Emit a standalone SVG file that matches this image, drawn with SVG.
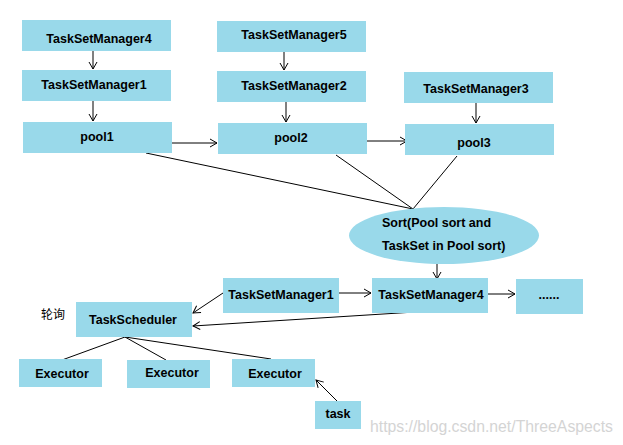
<svg xmlns="http://www.w3.org/2000/svg" width="623" height="445" viewBox="0 0 623 445">
<defs>
<style>
.b{fill:#99d9ea}
.t{font-family:"Liberation Sans",Arial,sans-serif;font-weight:bold;font-size:12.5px;fill:#000;text-anchor:middle;dominant-baseline:central}
.c{stroke:#000;stroke-width:1;fill:none}
.wm{font-family:"Liberation Sans",Arial,sans-serif;font-size:16px;fill:#d4d4d4}
</style>
<marker id="a" markerWidth="10" markerHeight="10" refX="8" refY="5" orient="auto" markerUnits="userSpaceOnUse">
<polyline points="1,1 8,5 1,9" fill="none" stroke="#000" stroke-width="1"/>
</marker>
</defs>
<rect width="623" height="445" fill="#fff"/>
<g id="connectors">
<line class="c" x1="93" y1="51" x2="93" y2="69" marker-end="url(#a)"/>
<line class="c" x1="93" y1="101" x2="93" y2="121" marker-end="url(#a)"/>
<line class="c" x1="284" y1="52" x2="284" y2="70" marker-end="url(#a)"/>
<line class="c" x1="286" y1="102" x2="286" y2="122" marker-end="url(#a)"/>
<line class="c" x1="476" y1="103" x2="476" y2="123" marker-end="url(#a)"/>
<line class="c" x1="172" y1="143" x2="217" y2="143" marker-end="url(#a)"/>
<line class="c" x1="367" y1="141" x2="407" y2="141" marker-end="url(#a)"/>
<line class="c" x1="146" y1="153" x2="413" y2="209"/>
<line class="c" x1="336" y1="155" x2="413" y2="209"/>
<line class="c" x1="457" y1="156" x2="413" y2="209"/>
<line class="c" x1="437" y1="264" x2="437" y2="279" marker-end="url(#a)"/>
<line class="c" x1="339" y1="293" x2="371" y2="293" marker-end="url(#a)"/>
<line class="c" x1="488" y1="294" x2="515" y2="294" marker-end="url(#a)"/>
<line class="c" x1="223" y1="293" x2="193" y2="313" marker-end="url(#a)"/>
<line class="c" x1="415" y1="312" x2="193" y2="326" marker-end="url(#a)"/>
<line class="c" x1="125" y1="337" x2="62" y2="360"/>
<line class="c" x1="125" y1="337" x2="166" y2="360"/>
<line class="c" x1="125" y1="337" x2="271" y2="359"/>
<line class="c" x1="338" y1="402" x2="316" y2="380" marker-end="url(#a)"/>
</g>
<g id="tsm4a"><rect class="b" x="22" y="20" width="149" height="31"/><text class="t" x="99" y="39">TaskSetManager4</text></g>
<g id="tsm1a"><rect class="b" x="22" y="70" width="149" height="31"/><text class="t" x="94" y="85">TaskSetManager1</text></g>
<g id="pool1"><rect class="b" x="23" y="122" width="149" height="31"/><text class="t" x="97" y="137">pool1</text></g>
<g id="tsm5"><rect class="b" x="217" y="21" width="149" height="31"/><text class="t" x="294" y="35">TaskSetManager5</text></g>
<g id="tsm2"><rect class="b" x="217" y="71" width="149" height="31"/><text class="t" x="294" y="86">TaskSetManager2</text></g>
<g id="pool2"><rect class="b" x="218" y="123" width="149" height="31"/><text class="t" x="291" y="138">pool2</text></g>
<g id="tsm3"><rect class="b" x="404" y="72" width="149" height="31"/><text class="t" x="476" y="89">TaskSetManager3</text></g>
<g id="pool3"><rect class="b" x="405" y="124" width="149" height="31"/><text class="t" x="474" y="143">pool3</text></g>
<g id="sort"><ellipse class="b" cx="444" cy="235.5" rx="95" ry="28.5"/>
<text class="t" x="382" y="223" style="text-anchor:start">Sort(Pool sort and</text>
<text class="t" x="382" y="246" style="text-anchor:start">TaskSet in Pool sort)</text></g>
<g id="tsm1b"><rect class="b" x="223" y="278" width="116" height="35"/><text class="t" x="281" y="295">TaskSetManager1</text></g>
<g id="tsm4b"><rect class="b" x="372" y="278" width="116" height="35"/><text class="t" x="431" y="295">TaskSetManager4</text></g>
<g id="more"><rect class="b" x="516" y="279" width="67" height="35"/><text class="t" x="549" y="295">......</text></g>
<g id="poll"><text class="t" x="53" y="313" style="font-family:'Noto Sans CJK SC',sans-serif;font-weight:normal;font-size:12px">轮询</text></g>
<g id="sched"><rect class="b" x="76" y="302" width="116" height="35"/><text class="t" x="133" y="320">TaskScheduler</text></g>
<g id="exec1"><rect class="b" x="19" y="359" width="83" height="28"/><text class="t" x="62" y="374">Executor</text></g>
<g id="exec2"><rect class="b" x="127" y="360" width="83" height="28"/><text class="t" x="172" y="373">Executor</text></g>
<g id="exec3"><rect class="b" x="232" y="359" width="83" height="28"/><text class="t" x="275" y="374">Executor</text></g>
<g id="task"><rect class="b" x="315" y="401" width="46" height="28"/><text class="t" x="338" y="414">task</text></g>
<text class="wm" x="370" y="432" textLength="243" lengthAdjust="spacingAndGlyphs">https://blog.csdn.net/ThreeAspects</text>
</svg>
